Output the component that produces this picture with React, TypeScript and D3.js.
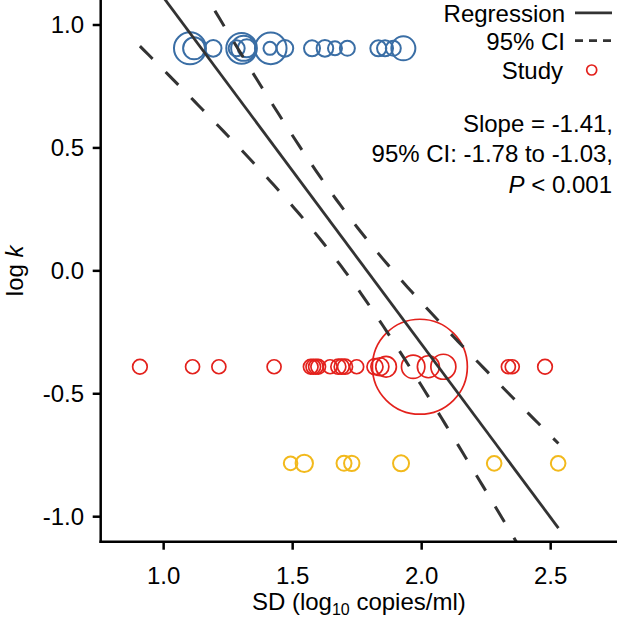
import React from "react";
import * as d3 from "d3";

// ---- data ----
const slope = -1.41;
const intercept = 2.521;
const xMean = 1.695;
const fitMinHalfWidth = 0.122; // CI half-width at the mean of x
const slopeHalfWidth = 0.385; // half-width of slope CI used for the band
const xRangeMin = 0.908;
const xRangeMax = 2.53;

const blueY = 0.905;
const blueX = [1.102, 1.118, 1.192, 1.283, 1.302, 1.31, 1.322, 1.412, 1.415, 1.47, 1.575, 1.625, 1.664, 1.712, 1.832, 1.858, 1.89, 1.929];
const blueW = [5.22, 2.47, 1.41, 1.31, 4.78, 3.19, 1.65, 0.86, 5.1, 1.41, 1.31, 1.41, 1.0, 1.15, 1.31, 1.31, 1.15, 2.94];

const redY = -0.39;
const redX = [0.908, 1.112, 1.214, 1.428, 1.57, 1.58, 1.59, 1.599, 1.645, 1.677, 1.69, 1.703, 1.748, 1.819, 1.838, 1.862, 1.967, 1.993, 2.026, 2.084, 2.336, 2.351, 2.478];
const redW = [1.09, 1.0, 1.0, 1.0, 1.09, 1.09, 1.09, 1.09, 1.0, 1.15, 1.15, 1.15, 1.0, 1.31, 1.65, 2.17, 2.79, 46, 2.47, 3.19, 1.0, 1.0, 1.09];

const yellowY = -0.783;
const yellowX = [1.492, 1.545, 1.699, 1.729, 1.92, 2.281, 2.529];
const yellowW = [0.94, 1.54, 1.15, 1.21, 1.31, 1.09, 1.09];

const xTicks = [1.0, 1.5, 2.0, 2.5];
const yTicks = [-1.0, -0.5, 0.0, 0.5, 1.0];

const legendLabels = ["Regression", "95% CI", "Study"];
const statLines = ["Slope = -1.41,", "95% CI: -1.78 to -1.03,"];
const pLine = " < 0.001";

const W = 617;
const H = 619;
const left = 100.7;
const bottom = 541.7;

const FONT = "Liberation Sans, Arial, Helvetica, sans-serif";
const FS = 24;

export default function App() {
  const x = d3.scaleLinear().domain([0.756, 2.757]).range([left, W]);
  const y = d3.scaleLinear().domain([-1.1017, 1.1017]).range([bottom, 0]);
  const r = d3.scaleSqrt().domain([0, 1]).range([0, 7]);

  const fit = (v: number) => intercept + slope * v;
  const half = (v: number) =>
    Math.sqrt(fitMinHalfWidth ** 2 + slopeHalfWidth ** 2 * (v - xMean) ** 2);

  const xs = d3.range(0, 101).map((i) => xRangeMin + ((xRangeMax - xRangeMin) * i) / 100);
  const line = d3
    .line<[number, number]>()
    .x((d) => x(d[0]))
    .y((d) => y(d[1]));

  const regPath = line([
    [xRangeMin, fit(xRangeMin)],
    [xRangeMax, fit(xRangeMax)],
  ]);
  const upperPath = line(xs.map((v) => [v, fit(v) + half(v)] as [number, number]));
  const lowerPath = line(xs.map((v) => [v, fit(v) - half(v)] as [number, number]));

  const series = [
    { xs: blueX, ws: blueW, yv: blueY, color: "#3A6EA5", sw: 2 },
    { xs: redX, ws: redW, yv: redY, color: "#E3211C", sw: 1.7 },
    { xs: yellowX, ws: yellowW, yv: yellowY, color: "#F2B91C", sw: 2 },
  ];

  const fmt = (v: number) => v.toFixed(1);

  return (
    <svg
      width={W}
      height={H}
      style={{ position: "absolute", left: 0, top: 0, background: "#fff" }}
      fontFamily={FONT}
    >
      <defs>
        <clipPath id="plot">
          <rect x={left} y={0} width={W - left} height={bottom} />
        </clipPath>
      </defs>

      {/* points */}
      <g clipPath="url(#plot)">
        {series.map((s, si) =>
          s.xs.map((xv, i) => (
            <circle
              key={`${si}-${i}`}
              cx={x(xv)}
              cy={y(s.yv)}
              r={r(s.ws[i])}
              fill="none"
              stroke={s.color}
              strokeWidth={s.sw}
            />
          ))
        )}
      </g>

      {/* lines */}
      <g clipPath="url(#plot)" fill="none" stroke="#333333">
        <path d={regPath ?? ""} strokeWidth={2.8} />
        <path d={upperPath ?? ""} strokeWidth={3} strokeDasharray="18 18.5" />
        <path d={lowerPath ?? ""} strokeWidth={3} strokeDasharray="18 18.5" />
      </g>

      {/* axes */}
      <g stroke="#000" strokeWidth={2.5}>
        <line x1={left} x2={left} y1={0} y2={bottom + 1.25} />
        <line x1={left - 1.25} x2={W} y1={bottom} y2={bottom} />
        {yTicks.map((t) => (
          <line key={`yt${t}`} x1={left - 8} x2={left} y1={y(t)} y2={y(t)} />
        ))}
        {xTicks.map((t) => (
          <line key={`xt${t}`} x1={x(t)} x2={x(t)} y1={bottom} y2={bottom + 8} />
        ))}
      </g>
      <g fontSize={FS} fill="#000">
        {yTicks.map((t) => (
          <text key={`yl${t}`} x={84} y={y(t)} dy="0.35em" textAnchor="end">
            {fmt(t)}
          </text>
        ))}
        {xTicks.map((t) => (
          <text key={`xl${t}`} x={x(t)} y={584} textAnchor="middle">
            {fmt(t)}
          </text>
        ))}
      </g>

      {/* axis titles */}
      <text x={(left + W) / 2} y={610} textAnchor="middle" fontSize={FS}>
        SD (log
        <tspan fontSize={16} dy={5}>10</tspan>
        <tspan dy={-5}> copies/ml)</tspan>
      </text>
      <text
        transform={`translate(23, ${y(0)}) rotate(-90)`}
        textAnchor="middle"
        fontSize={FS}
      >
        log <tspan fontStyle="italic">k</tspan>
      </text>

      {/* legend */}
      <g fontSize={FS} textAnchor="end">
        <text x={565} y={21.5}>{legendLabels[0]}</text>
        <text x={565} y={49.5}>{legendLabels[1]}</text>
        <text x={563} y={79}>{legendLabels[2]}</text>
      </g>
      <line x1={575} x2={612} y1={12.8} y2={12.8} stroke="#333" strokeWidth={2.8} />
      <line
        x1={575}
        x2={612}
        y1={40.7}
        y2={40.7}
        stroke="#333"
        strokeWidth={2.8}
        strokeDasharray="8 6"
      />
      <circle cx={591.7} cy={70} r={5} fill="none" stroke="#E3211C" strokeWidth={1.7} />

      {/* stats */}
      <g fontSize={FS} textAnchor="end">
        <text x={613} y={132}>{statLines[0]}</text>
        <text x={613} y={162}>{statLines[1]}</text>
        <text x={612} y={193}>
          <tspan fontStyle="italic">P</tspan>
          {pLine}
        </text>
      </g>
    </svg>
  );
}
